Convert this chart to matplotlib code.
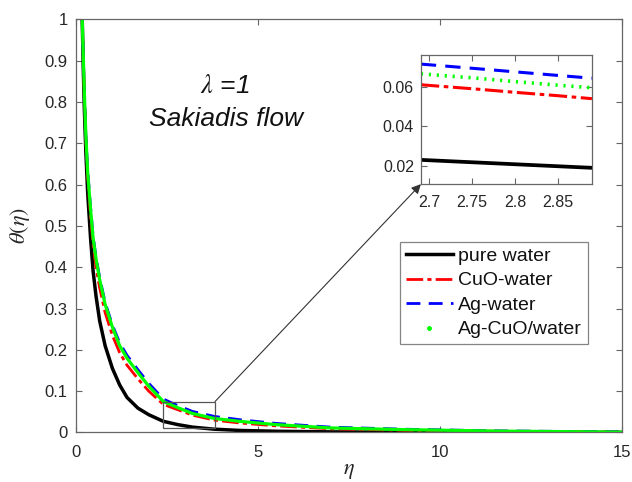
import matplotlib
matplotlib.use("Agg")
import matplotlib.pyplot as plt
from matplotlib.lines import Line2D
from matplotlib.patches import Rectangle

plt.rcParams['font.family'] = ['Liberation Sans', 'DejaVu Sans']
plt.rcParams['mathtext.fontset'] = 'stix'

# ---------------- data ----------------
eta = [0.17, 0.2, 0.23, 0.27, 0.32, 0.4, 0.47, 0.55, 0.65, 0.8, 1.0, 1.2, 1.4,
       1.7, 2.0, 2.4, 2.8, 3.2, 3.8, 4.5, 5.5, 7.0, 9.0, 11.5, 15]
pure_water = [1.0, 0.88, 0.78, 0.68, 0.58, 0.47, 0.39, 0.33, 0.27, 0.21, 0.155,
              0.115, 0.085, 0.059, 0.043, 0.027, 0.019, 0.013, 0.008, 0.005,
              0.003, 0.0015, 0.0008, 0.0004, 0.0002]
cuo_water = [1.0, 0.905, 0.81, 0.71, 0.62, 0.52, 0.455, 0.40, 0.35, 0.29, 0.235,
             0.193, 0.163, 0.13, 0.10, 0.068, 0.055, 0.042, 0.030, 0.023, 0.016,
             0.009, 0.0055, 0.003, 0.001]
ag_water = [1.0, 0.91, 0.82, 0.72, 0.635, 0.545, 0.475, 0.425, 0.375, 0.315,
            0.26, 0.217, 0.187, 0.152, 0.119, 0.081, 0.065, 0.051, 0.039, 0.031,
            0.022, 0.013, 0.008, 0.004, 0.0015]
agcuo_water = [1.0, 0.91, 0.82, 0.72, 0.63, 0.54, 0.47, 0.42, 0.37, 0.31, 0.255,
               0.21, 0.18, 0.145, 0.112, 0.075, 0.060, 0.046, 0.034, 0.027,
               0.019, 0.011, 0.007, 0.0035, 0.001]

inset_eta = [2.69, 2.75, 2.8, 2.85, 2.89]
inset_pure = [0.0232, 0.0220, 0.0210, 0.0200, 0.0192]
inset_cuo = [0.0610, 0.0590, 0.0572, 0.0555, 0.0540]
inset_agcuo = [0.0665, 0.0645, 0.0626, 0.0608, 0.0595]
inset_ag = [0.0714, 0.0693, 0.0675, 0.0657, 0.0643]

labels = ['pure water', 'CuO-water', 'Ag-water', 'Ag-CuO/water']
xticks = [0, 5, 10, 15]
yticks = [0, 0.1, 0.2, 0.3, 0.4, 0.5, 0.6, 0.7, 0.8, 0.9, 1]
ytick_labels = ['0', '0.1', '0.2', '0.3', '0.4', '0.5', '0.6', '0.7', '0.8', '0.9', '1']
inset_xticks = [2.7, 2.75, 2.8, 2.85]
inset_yticks = [0.02, 0.04, 0.06]

# ---------------- styles ----------------
BLACK, RED, BLUE, GREEN = '#000000', '#ff0000', '#0000ff', '#00ff00'
SPINE = '#666666'
TXT = '#262626'
RED_LS = (0, (6, 1.5, 1.5, 1.5))
BLUE_LS = (0, (5, 3))

fig = plt.figure(figsize=(6.32, 4.82), dpi=100)
ax = fig.add_axes([0.1203, 0.1027, 0.8637, 0.857])

def style(a, fs, xpad, ypad):
    for s in a.spines.values():
        s.set_color(SPINE)
        s.set_linewidth(0.9)
    a.tick_params(direction='in', top=True, right=True, colors=SPINE,
                  labelcolor=TXT, labelsize=fs, length=4, width=0.8)
    a.tick_params(axis='x', pad=xpad)
    a.tick_params(axis='y', pad=ypad)

# main curves
ax.plot(eta, pure_water, color=BLACK, lw=2.5, ls='-')
ax.plot(eta, cuo_water, color=RED, lw=2.0, ls=RED_LS)
ax.plot(eta, ag_water, color=BLUE, lw=2.0, ls=BLUE_LS)
ax.plot(eta, agcuo_water, color=GREEN, lw=2.3, ls='-')

ax.set_xlim(0, 15)
ax.set_ylim(0, 1)
ax.set_xticks(xticks)
ax.set_yticks(yticks)
ax.set_yticklabels(ytick_labels)
style(ax, 12, 9, 6)
ax.set_xlabel(r'$\eta$', fontsize=16, color=TXT, labelpad=0)
ax.set_ylabel(r'$\theta(\eta)$', fontsize=16, color=TXT, labelpad=9)

ax.text(0.273, 0.84, r'$\lambda$ =1', transform=ax.transAxes, fontsize=19,
        style='italic', ha='center', va='center', color='#111111')
ax.text(0.275, 0.76, 'Sakiadis flow', transform=ax.transAxes, fontsize=19,
        style='italic', ha='center', va='center', color='#111111')

# zoom rectangle on main plot
ax.add_patch(Rectangle((2.4, 0.0105), 1.42, 0.0645, fill=False,
                       edgecolor='#555555', lw=0.9, zorder=5))

# legend
handles = [Line2D([], [], color=BLACK, lw=2.5, ls='-'),
           Line2D([], [], color=RED, lw=2.0, ls=RED_LS),
           Line2D([], [], color=BLUE, lw=2.0, ls=BLUE_LS),
           Line2D([], [], color=GREEN, ls='none', marker='.', markersize=5)]
leg = fig.legend(handles, labels, loc='lower left', bbox_to_anchor=(0.633, 0.286),
                 bbox_transform=fig.transFigure, fontsize=14, frameon=True,
                 fancybox=False, edgecolor=SPINE, handlelength=2.4,
                 handletextpad=0.3, borderpad=0.3, labelspacing=0.35,
                 borderaxespad=0)
leg.get_frame().set_linewidth(0.9)
for t in leg.get_texts():
    t.set_color('#111111')

# inset axes
axi = fig.add_axes([0.666, 0.618, 0.2706, 0.268])
axi.plot(inset_eta, inset_pure, color=BLACK, lw=2.7, ls='-')
axi.plot(inset_eta, inset_cuo, color=RED, lw=2.2, ls=RED_LS)
axi.plot(inset_eta, inset_ag, color=BLUE, lw=2.2, ls=BLUE_LS)
axi.plot(inset_eta, inset_agcuo, color=GREEN, lw=2.6, ls=(0, (0.6, 1.6)))
axi.set_xlim(2.69, 2.89)
axi.set_ylim(0.011, 0.076)
axi.set_xticks(inset_xticks)
axi.set_xticklabels(['2.7', '2.75', '2.8', '2.85'])
axi.set_yticks(inset_yticks)
axi.set_yticklabels(['0.02', '0.04', '0.06'])
style(axi, 11.5, 8, 5)

# arrow from rectangle to inset
ax.annotate('', xy=(0, 0), xycoords=axi.transAxes,
            xytext=(3.82, 0.075), textcoords='data',
            arrowprops=dict(arrowstyle='-|>', color='#333333', lw=0.8,
                            mutation_scale=14, shrinkA=0, shrinkB=0),
            annotation_clip=False)

fig.savefig('out.png', dpi=100)
